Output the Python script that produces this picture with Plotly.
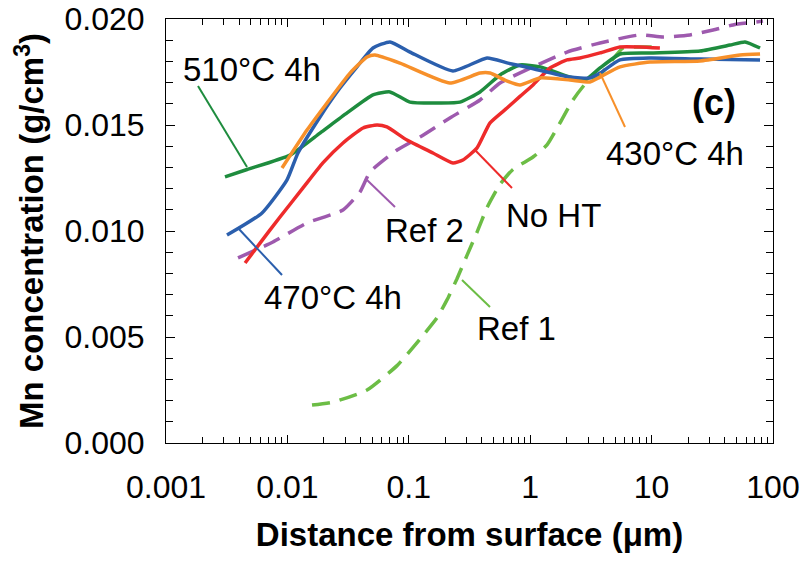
import plotly.graph_objects as go

# ---------------- data ----------------
x_470 = [0.00318, 0.00618, 0.00993, 0.01222, 0.01855, 0.02562, 0.0374, 0.0507, 0.070, 0.1023,
         0.231, 0.441, 0.656, 1.0, 2.13, 3.11, 3.76, 5.49, 9.7, 25.1, 78.2]
y_470 = [0.00981, 0.01085, 0.01241, 0.01368, 0.01538, 0.01656, 0.01774, 0.01863, 0.01892, 0.01844,
         0.01755, 0.01816, 0.01792, 0.01769, 0.01726, 0.01722, 0.01745, 0.01807, 0.01816, 0.01811, 0.01807]

x_430 = [0.00903, 0.0145, 0.0212, 0.0328, 0.0453, 0.0527, 0.0846, 0.218, 0.386, 0.467, 0.619,
         0.824, 1.205, 2.13, 3.11, 3.76, 5.49, 9.7, 25.1, 53.5, 78.2]
y_430 = [0.01297, 0.01476, 0.01604, 0.01745, 0.01821, 0.0183, 0.01792, 0.01698, 0.01745, 0.01745, 0.01712,
         0.01689, 0.01722, 0.01712, 0.01703, 0.01726, 0.01774, 0.01797, 0.01802, 0.0183, 0.01835]

x_510 = [0.00306, 0.00465, 0.0105, 0.01855, 0.031, 0.0507, 0.070, 0.1023, 0.181, 0.264, 0.386,
         0.564, 0.824, 1.205, 2.13, 2.83, 3.76, 5.49, 9.7, 25.1, 44.2, 58.8, 78.2]
y_510 = [0.01255, 0.0129, 0.01358, 0.01462, 0.01557, 0.01642, 0.01656, 0.01608, 0.01604, 0.01608, 0.01656,
         0.01736, 0.01783, 0.01774, 0.01726, 0.01712, 0.01769, 0.01835, 0.0184, 0.01849, 0.01877, 0.01892, 0.01863]

x_noht = [0.00448, 0.00595, 0.00869, 0.01344, 0.0196, 0.0287, 0.042, 0.0547, 0.066, 0.0966, 0.158,
          0.231, 0.279, 0.365, 0.467, 0.644, 0.824, 1.055, 1.456, 2.01, 2.57, 3.76, 5.49, 8.02, 11.7]
y_noht = [0.00849, 0.00943, 0.01066, 0.01203, 0.01321, 0.01415, 0.01486, 0.0150, 0.01491, 0.01429, 0.01368,
          0.01321, 0.01335, 0.01392, 0.0151, 0.0158, 0.01635, 0.01689, 0.01769, 0.01807, 0.01816, 0.0184, 0.01868, 0.01868, 0.01863]

x_ref2 = [0.00392, 0.0076, 0.0145, 0.0287, 0.0396, 0.0479, 0.080, 0.1236, 0.218, 0.386, 0.564,
          1.055, 2.01, 3.76, 8.02, 12.4, 20.7, 32.1, 46.9, 82.7]
y_ref2 = [0.00873, 0.00948, 0.01038, 0.01099, 0.01184, 0.01278, 0.01382, 0.01443, 0.01533, 0.01618, 0.01698,
          0.01774, 0.01844, 0.01887, 0.01925, 0.01915, 0.01925, 0.01948, 0.01972, 0.0199]

x_ref1 = [0.01595, 0.0238, 0.0453, 0.080, 0.1236, 0.1706, 0.2064, 0.2495, 0.3015, 0.365, 0.441,
          0.564, 0.721, 1.055, 1.375, 1.76, 2.25, 2.94, 3.76, 5.81, 7.59, 10.7]
y_ref1 = [0.00179, 0.00193, 0.0025, 0.00365, 0.0049, 0.0059, 0.00675, 0.00775, 0.00885, 0.00995, 0.0111,
          0.0122, 0.0129, 0.01349, 0.01406, 0.0151, 0.01618, 0.01703, 0.01736, 0.01863, 0.01868, 0.01868]

x_tickvals = [0.001, 0.01, 0.1, 1, 10, 100]
x_ticktext = ["0.001", "0.01", "0.1", "1", "10", "100"]

# ---------------- styling / layout ----------------
FONT = "Liberation Sans, Arial, sans-serif"
L, R, T, B = 166, 773, 19, 443
W, H = R - L, B - T


def P(px, py):
    return (px - L) / W, (B - py) / H


fig = go.Figure()

series = [
    (x_ref2, y_ref2, "#9e5aae", "18px,10px", "Ref 2"),
    (x_ref1, y_ref1, "#6cbd45", "18px,10px", "Ref 1"),
    (x_510, y_510, "#1e8c3e", "solid", "510°C 4h"),
    (x_noht, y_noht, "#ee2b2b", "solid", "No HT"),
    (x_470, y_470, "#2b5fad", "solid", "470°C 4h"),
    (x_430, y_430, "#f7902a", "solid", "430°C 4h"),
]
for xs, ys, col, dash, name in series:
    fig.add_trace(go.Scatter(x=xs, y=ys, mode="lines", name=name,
                             line=dict(color=col, width=3.5, dash=dash, shape="spline", smoothing=0.5)))

labels = [
    ("510°C 4h", 252, 70, 33, False),
    ("430°C 4h", 675, 153, 33, False),
    ("470°C 4h", 333, 297, 33, False),
    ("Ref 2", 424, 230, 33, False),
    ("No HT", 553, 215, 33, False),
    ("Ref 1", 516, 328, 33, False),
    ("(c)", 714, 103, 36, True),
]
annotations = []
for txt, px, py, size, bold in labels:
    xp, yp = P(px, py)
    annotations.append(dict(text=f"<b>{txt}</b>" if bold else txt, x=xp, y=yp, xref="paper", yref="paper",
                            xanchor="center", yanchor="middle", showarrow=False,
                            font=dict(family=FONT, size=size, color="black")))

leaders = [
    ((198, 86), (247, 167), "#1e8c3e"),
    ((238, 228), (282, 275), "#2b5fad"),
    ((367, 180), (395, 207), "#9e5aae"),
    ((475, 150), (512, 188), "#ee2b2b"),
    ((462, 280), (490, 307), "#6cbd45"),
    ((600, 73), (625, 127), "#f7902a"),
]
shapes = []
for (a, b, col) in leaders:
    x0, y0 = P(*a)
    x1, y1 = P(*b)
    shapes.append(dict(type="line", xref="paper", yref="paper", x0=x0, y0=y0, x1=x1, y1=y1,
                       line=dict(color=col, width=2)))

fig.update_layout(
    width=806, height=561, autosize=False,
    margin=dict(l=L, r=806 - R, t=T, b=561 - B, autoexpand=False),
    paper_bgcolor="white", plot_bgcolor="white",
    showlegend=False,
    font=dict(family=FONT, color="black"),
    annotations=annotations, shapes=shapes,
)
fig.update_xaxes(
    type="log", range=[-3, 2], automargin=False,
    tickvals=x_tickvals, ticktext=x_ticktext,
    tickfont=dict(family=FONT, size=32, color="black"),
    ticks="inside", ticklen=8, tickwidth=1, tickcolor="black",
    minor=dict(ticks="inside", ticklen=6, tickwidth=1, tickcolor="black", dtick="D1", showgrid=False),
    showline=True, linecolor="black", linewidth=1, mirror="ticks",
    showgrid=False, zeroline=False,
    ticklabelstandoff=16,
    title=dict(text="<b>Distance from surface (μm)</b>", font=dict(family=FONT, size=33, color="black"), standoff=18),
)
fig.update_yaxes(
    range=[0, 0.020], dtick=0.005, tickformat=".3f", automargin=False,
    tickfont=dict(family=FONT, size=32, color="black"),
    ticks="inside", ticklen=9, tickwidth=1, tickcolor="black",
    minor=dict(ticks="inside", ticklen=7, tickwidth=1, tickcolor="black", dtick=0.001, showgrid=False),
    showline=True, linecolor="black", linewidth=1, mirror="ticks",
    showgrid=False, zeroline=False,
    ticklabelstandoff=14,
    title=dict(text="<b>Mn concentration (g/cm<sup>3</sup>)</b>", font=dict(family=FONT, size=33, color="black"), standoff=10),
)

fig.write_html("out.html")
